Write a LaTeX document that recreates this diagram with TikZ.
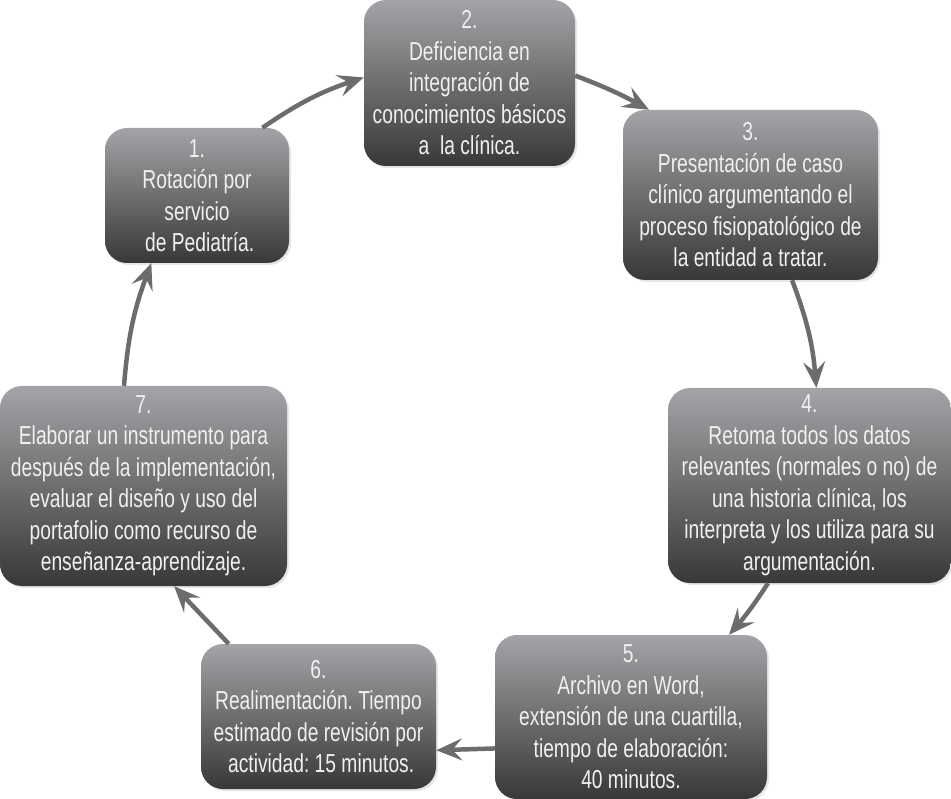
\documentclass[tikz,border=0pt]{standalone}
\usepackage{fontspec}
\setmainfont[FakeStretch=0.74]{Liberation Sans}
\usetikzlibrary{arrows.meta,shadows}
\definecolor{boxtop}{HTML}{A4A4A8}
\definecolor{boxbot}{HTML}{383838}
\definecolor{arrowgray}{HTML}{6C6C6C}
\definecolor{txt}{HTML}{F0F0F0}
\begin{document}
\frenchspacing
\begin{tikzpicture}[x=1pt,y=-1pt,
 stepbox/.style={rounded corners=22pt, top color=boxtop, bottom color=boxbot, draw=none, align=center, text=txt,
   font=\fontsize{26}{31.5}\selectfont, inner sep=0pt,
   drop shadow={opacity=0.2, shadow xshift=2pt, shadow yshift=-2pt}},
 flow/.style={draw=arrowgray, line width=4.5pt, -{Stealth[length=26pt,width=22pt,inset=10pt]}}]
\useasboundingbox (0,0) rectangle (951,799);

\node[stepbox, minimum width=184pt, minimum height=135pt] (b1) at (197,195.5)
  {1.\\Rotación por\\servicio\\\ de Pediatría.};
\node[stepbox, minimum width=211pt, minimum height=166pt] (b2) at (469.5,83)
  {2.\\Deficiencia en\\integración de\\conocimientos básicos\\a\ \ la clínica.};
\node[stepbox, minimum width=255pt, minimum height=170pt] (b3) at (750.5,195)
  {3.\\Presentación de caso\\clínico argumentando el\\proceso fisiopatológico de\\la entidad a tratar.};
\node[stepbox, minimum width=283pt, minimum height=195pt] (b4) at (809.5,485.5)
  {4.\\Retoma todos los datos\\relevantes (normales o no) de\\una historia clínica, los\\interpreta y los utiliza para su\\argumentación.};
\node[stepbox, minimum width=272pt, minimum height=164pt] (b5) at (631,717)
  {5.\\Archivo en Word,\\extensión de una cuartilla,\\tiempo de elaboración:\\40 minutos.};
\node[stepbox, minimum width=235pt, minimum height=145pt] (b6) at (318.5,716.5)
  {6.\\Realimentación. Tiempo\\estimado de revisión por\\\ actividad: 15 minutos.};
\node[stepbox, minimum width=287pt, minimum height=200pt] (b7) at (143.5,486)
  {7.\\Elaborar un instrumento para\\después de la implementación,\\evaluar el diseño y uso del\\portafolio como recurso de\\enseñanza-aprendizaje.};

\draw[flow] (b1.46) to[bend left=8] (b2.177);
\draw[flow] (b2.4) to[bend left=4] (b3.140);
\draw[flow] (b3.-64) to[bend left=8] (b4.86);
\draw[flow] (b4.247) to[bend left=4] (b5.40);
\draw[flow] (b5.193) -- (b6.-16);
\draw[flow] (b6.141) -- (b7.-73);
\draw[flow] (b7.101) to[bend left=8] (b1.-124);
\end{tikzpicture}
\end{document}
